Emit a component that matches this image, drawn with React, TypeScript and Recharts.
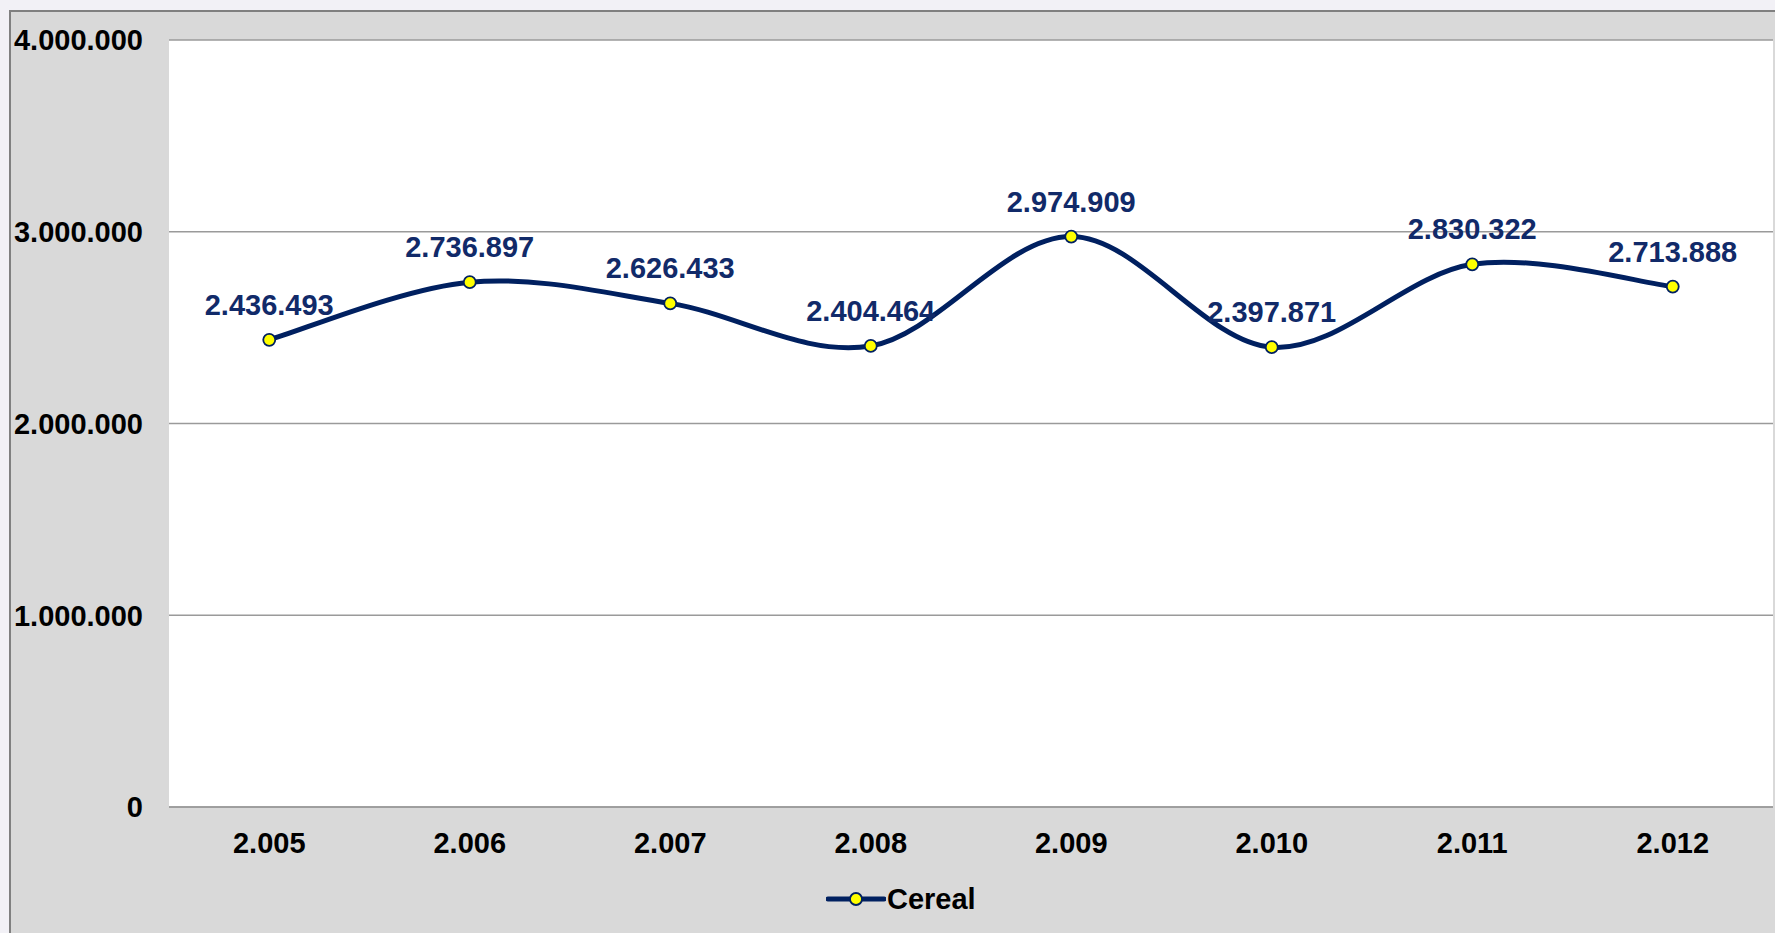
import React from 'react';
import { LineChart, Line, XAxis, YAxis, CartesianGrid, LabelList, Legend } from 'recharts';

const years = ['2.005', '2.006', '2.007', '2.008', '2.009', '2.010', '2.011', '2.012'];
const cereal = [2436493, 2736897, 2626433, 2404464, 2974909, 2397871, 2830322, 2713888];
const yTicks = [0, 1000000, 2000000, 3000000, 4000000];
const seriesName = 'Cereal';

const data = years.map((y, i) => ({ year: y, value: cereal[i] }));

const NAVY = '#002060';
const LABEL = '#112a69';
const FONT = '"Liberation Sans", Arial, Helvetica, sans-serif';
const FS = 29;

const fmt = (n: any) => String(n).replace(/\B(?=(\d{3})+(?!\d))/g, '.');

// Catmull-Rom style smoothing (similar to spreadsheet smoothed lines)
function smoothCurve(context: any) {
  let pts: [number, number][] = [];
  return {
    areaStart() {},
    areaEnd() {},
    lineStart() {
      pts = [];
    },
    lineEnd() {
      if (!pts.length) return;
      context.moveTo(pts[0][0], pts[0][1]);
      for (let i = 0; i < pts.length - 1; i++) {
        const p0 = pts[i - 1] || pts[i];
        const p1 = pts[i];
        const p2 = pts[i + 1];
        const p3 = pts[i + 2] || p2;
        context.bezierCurveTo(
          p1[0] + (p2[0] - p0[0]) / 6,
          p1[1] + (p2[1] - p0[1]) / 6,
          p2[0] - (p3[0] - p1[0]) / 6,
          p2[1] - (p3[1] - p1[1]) / 6,
          p2[0],
          p2[1]
        );
      }
    },
    point(x: number, y: number) {
      pts.push([+x, +y]);
    },
  };
}

const renderLegend = (props: any) => {
  const payload = props.payload || [];
  const name = payload.length ? payload[0].value : seriesName;
  return (
    <div style={{ display: 'flex', alignItems: 'center', height: 36 }}>
      <svg width={60} height={20}>
        <line x1={2} y1={10} x2={58} y2={10} stroke={NAVY} strokeWidth={5} strokeLinecap="round" />
        <circle cx={30} cy={10} r={6} fill="#ffff00" stroke={NAVY} strokeWidth={1.8} />
      </svg>
      <span style={{ fontFamily: FONT, fontSize: FS, fontWeight: 700, color: '#000', marginLeft: 1 }}>{name}</span>
    </div>
  );
};

export default function App() {
  return (
    <div style={{ position: 'absolute', left: 0, top: 0, width: 1775, height: 933, overflow: 'hidden', background: '#f2f1f6' }}>
      <div
        style={{
          position: 'absolute',
          left: 9,
          top: 10,
          width: 1766,
          height: 923,
          background: '#d9d9d9',
          boxShadow: 'inset 2px 2px 0 #808080',
        }}
      >
        <LineChart width={1766} height={923} data={data} margin={{ top: 30, right: 2, bottom: 66, left: 0 }}>
          <CartesianGrid horizontal vertical={false} fill="#ffffff" stroke="#9a9a9a" strokeWidth={1.5} />
          <XAxis
            dataKey="year"
            scale="band"
            interval={0}
            tickLine={false}
            axisLine={{ stroke: '#9a9a9a', strokeWidth: 1.5 }}
            tickMargin={19}
            height={60}
            tick={{ fill: '#000', fontSize: FS, fontWeight: 700, fontFamily: FONT }}
          />
          <YAxis
            domain={[0, 4000000]}
            ticks={yTicks}
            width={160}
            tickLine={false}
            axisLine={false}
            tickMargin={20}
            tickFormatter={fmt}
            tick={{ fill: '#000', fontSize: FS, fontWeight: 700, fontFamily: FONT }}
          />
          <Legend
            layout="horizontal"
            verticalAlign="middle"
            align="center"
            wrapperStyle={{ position: 'absolute', left: 817, top: 871, width: 'auto', height: 36 }}
            content={renderLegend}
          />
          <Line
            name={seriesName}
            dataKey="value"
            type={smoothCurve as any}
            stroke={NAVY}
            strokeWidth={5}
            dot={{ r: 6, fill: '#ffff00', stroke: NAVY, strokeWidth: 1.8 }}
            activeDot={false}
            isAnimationActive={false}
          >
            <LabelList
              dataKey="value"
              position="top"
              offset={25}
              formatter={fmt}
              fill={LABEL}
              style={{ fontSize: FS, fontWeight: 700, fontFamily: FONT }}
            />
          </Line>
        </LineChart>
      </div>
    </div>
  );
}
